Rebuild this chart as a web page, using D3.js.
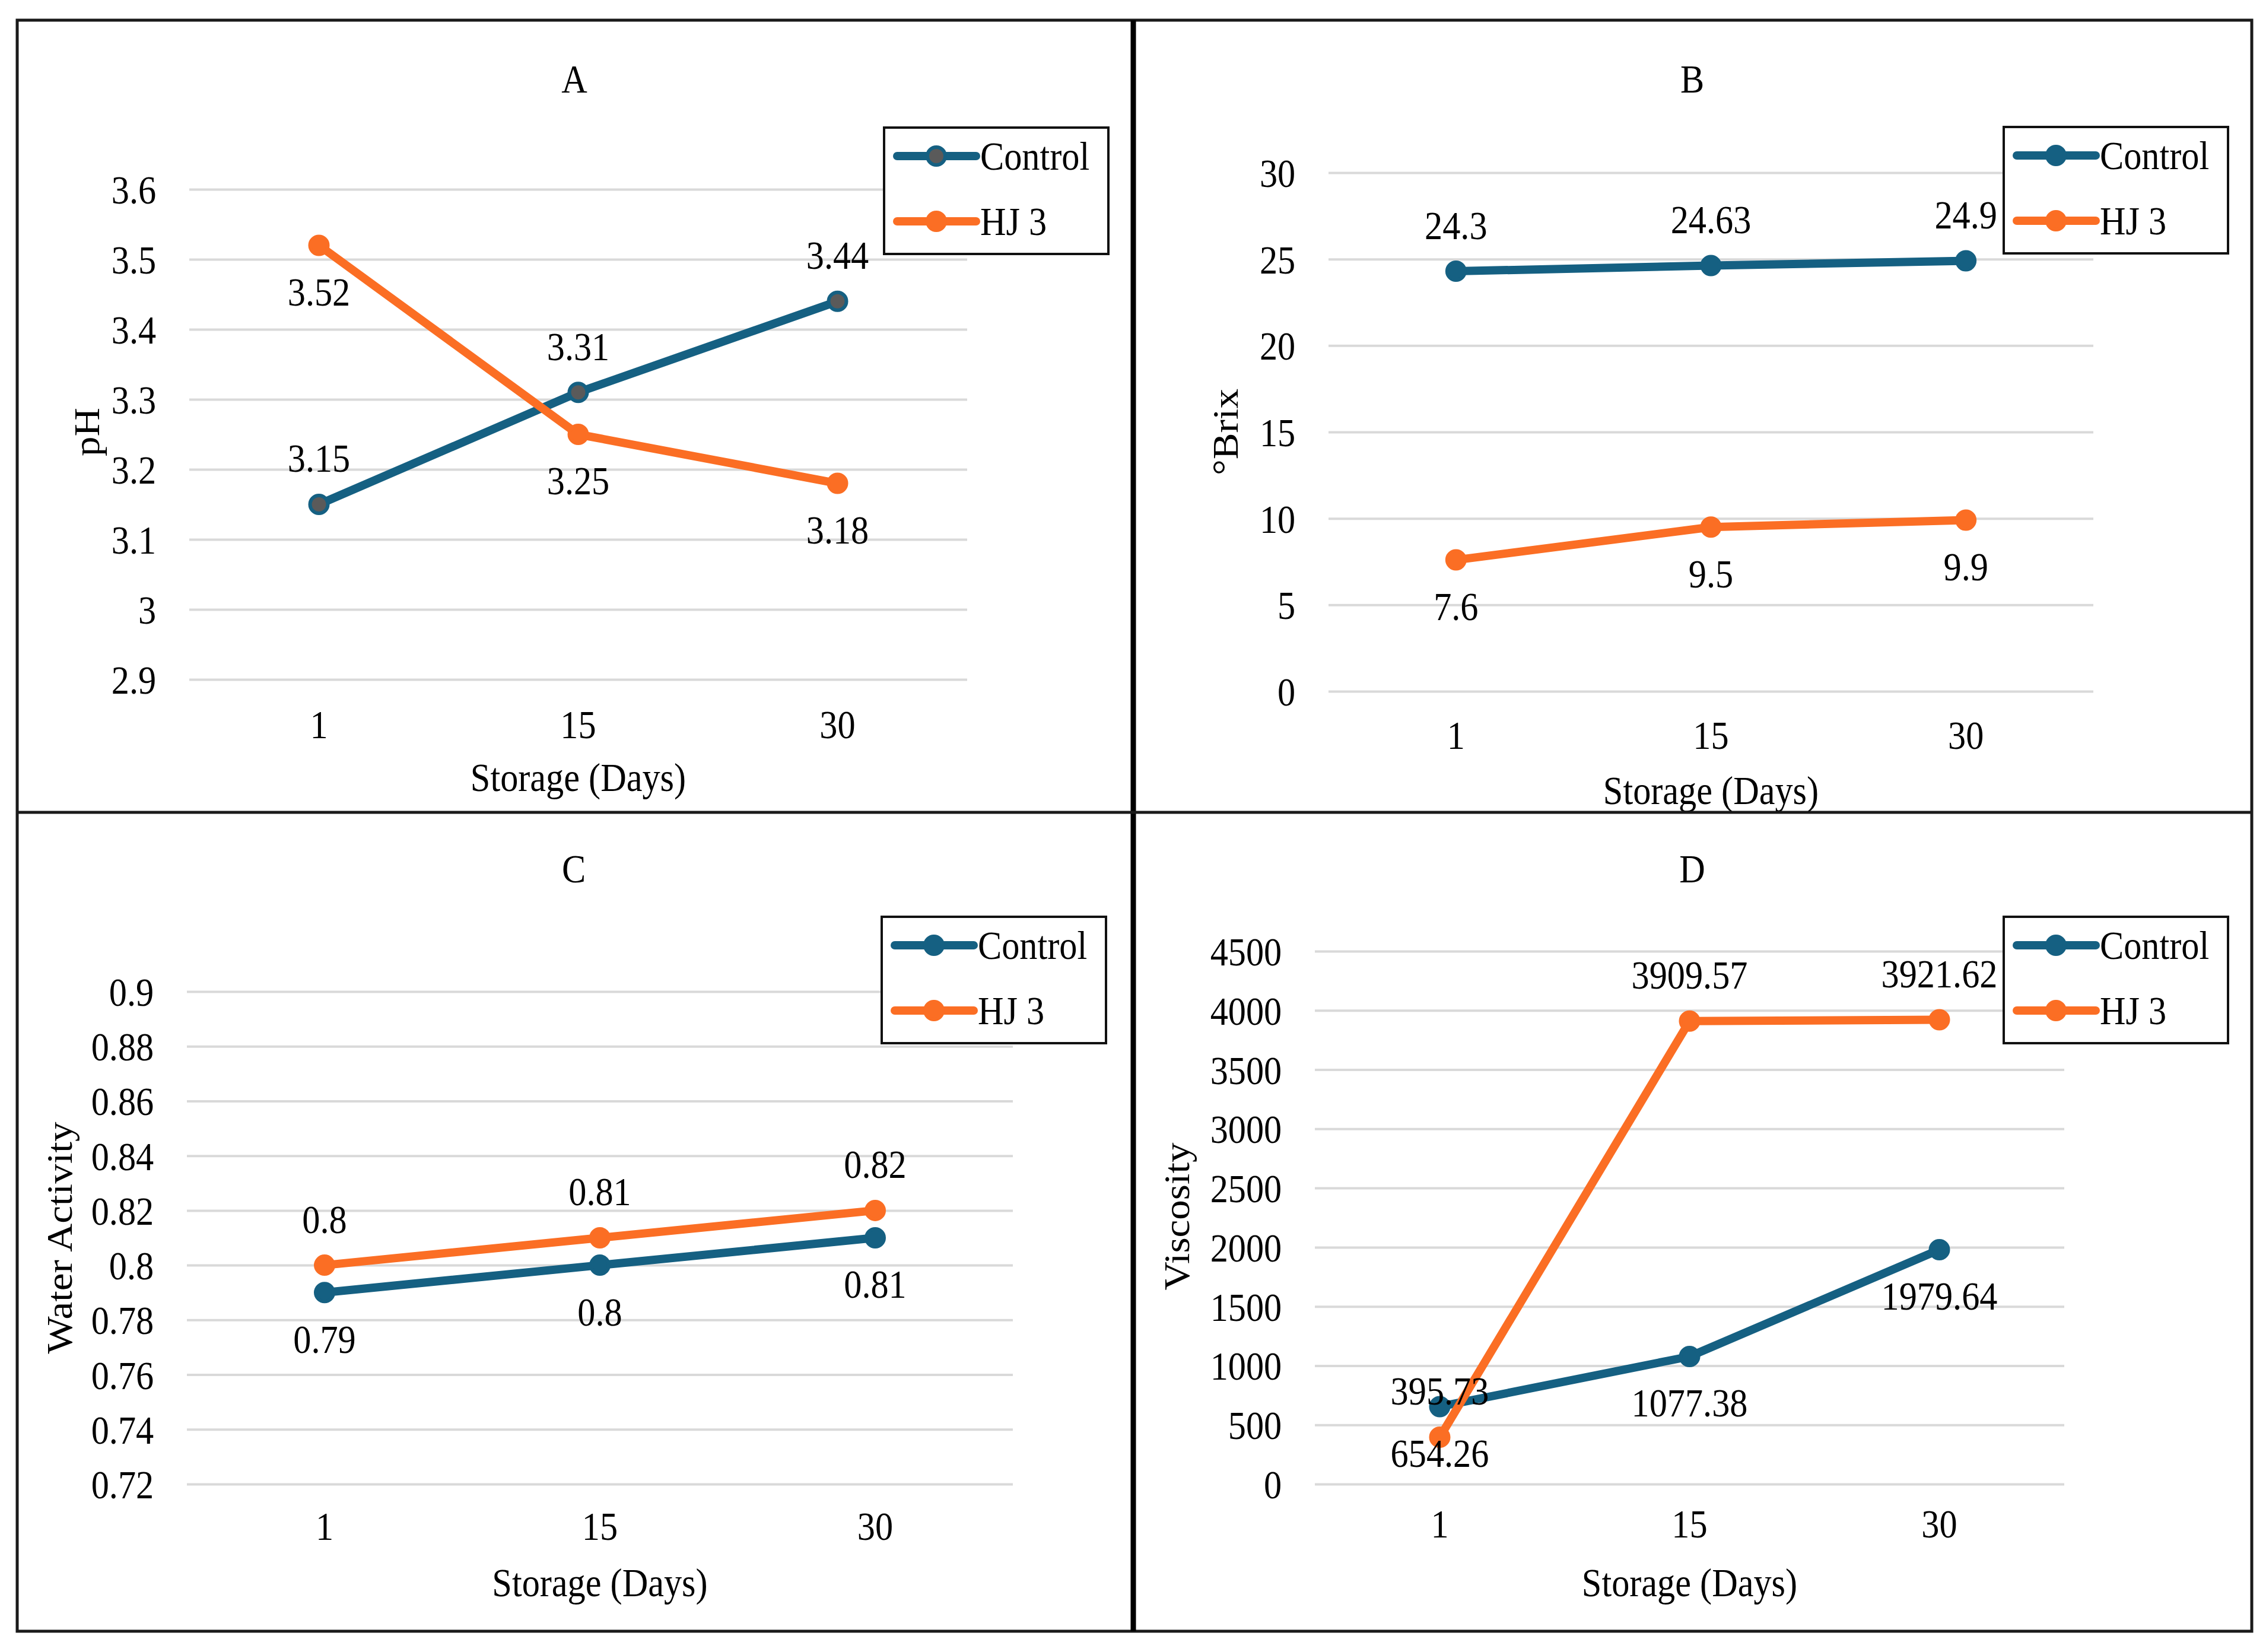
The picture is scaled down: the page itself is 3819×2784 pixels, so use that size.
<!DOCTYPE html>
<html>
<head>
<meta charset="utf-8">
<script src="https://cdn.jsdelivr.net/npm/d3@7"></script>
<style>
  body { margin: 0; background: #fff; }
  text { font-family: "Liberation Serif", "Times New Roman", serif; fill: #000; }
</style>
</head>
<body>
<div id="chart"></div>
<script>
// data
var days = ["1", "15", "30"];
var seriesNames = ["Control", "HJ 3"];

var phControl = [3.15, 3.31, 3.44];
var phHJ3 = [3.52, 3.25, 3.18];
var phTicks = [2.9, 3, 3.1, 3.2, 3.3, 3.4, 3.5, 3.6];

var brixControl = [24.3, 24.63, 24.9];
var brixHJ3 = [7.6, 9.5, 9.9];
var brixTicks = [0, 5, 10, 15, 20, 25, 30];

var awControl = [0.79, 0.8, 0.81];
var awHJ3 = [0.8, 0.81, 0.82];
var awTicks = [0.72, 0.74, 0.76, 0.78, 0.8, 0.82, 0.84, 0.86, 0.88, 0.9];

var viscControl = [654.26, 1077.38, 1979.64];
var viscHJ3 = [395.73, 3909.57, 3921.62];
var viscTicks = [0, 500, 1000, 1500, 2000, 2500, 3000, 3500, 4000, 4500];

//colours
var teal = "#156082";
var orange = "#FB6E24";
var FS = 67;      // font size
var SX = 0.9;     // the figure's text is a little narrow

var svgWidth = 3819;
var svgHeight = 2784;

var svg = d3.select("#chart")
  .append("svg")
  .attr("width", svgWidth)
  .attr("height", svgHeight);

svg.append("rect").attr("width", svgWidth).attr("height", svgHeight).attr("fill", "#fff");

// layout of the four panels
var panels = [
  { title: "A", yLabel: "pH", control: phControl, hj3: phHJ3, ticks: phTicks, domain: [2.9, 3.6],
    left: 319, right: 1630, top: 319, bottom: 1145, titleX: 968, titleY: 133,
    yLabelX: 146, yLabelY: 728, xTickY: 1221, xTitleY: 1310,
    legendX: 1490, legendY: 215, controlAbove: true, grayMarker: true },
  { title: "B", yLabel: "°Brix", control: brixControl, hj3: brixHJ3, ticks: brixTicks, domain: [0, 30],
    left: 2239, right: 3528, top: 291, bottom: 1165, titleX: 2852, titleY: 133,
    yLabelX: 2065, yLabelY: 728, xTickY: 1239, xTitleY: 1332,
    legendX: 3377, legendY: 214, controlAbove: true, grayMarker: false },
  { title: "C", yLabel: "Water Activity", control: awControl, hj3: awHJ3, ticks: awTicks, domain: [0.72, 0.9],
    left: 315, right: 1707, top: 1671, bottom: 2501, titleX: 967, titleY: 1464,
    yLabelX: 100, yLabelY: 2086, xTickY: 2572, xTitleY: 2667,
    legendX: 1486, legendY: 1545, controlAbove: false, grayMarker: false },
  { title: "D", yLabel: "Viscosity", control: viscControl, hj3: viscHJ3, ticks: viscTicks, domain: [0, 4500],
    left: 2216, right: 3479, top: 1603, bottom: 2501, titleX: 2852, titleY: 1464,
    yLabelX: 1983, yLabelY: 2050, xTickY: 2568, xTitleY: 2667,
    legendX: 3377, legendY: 1545, controlAbove: false, grayMarker: false }
];

// text helper, squeezes the glyphs a bit to match the picture
function addText(parent, x, y, str, anchor, rotated) {
  var tf = `translate(${x},${y})` + (rotated ? " rotate(-90) scale(1," + SX + ")" : " scale(" + SX + ",1)");
  return parent.append("text")
    .attr("transform", tf)
    .attr("text-anchor", anchor || "middle")
    .attr("dy", "0.35em")
    .attr("font-size", FS)
    .text(str);
}

function fmt(v) {
  return String(+v.toFixed(3));
}

function drawPanel(p) {
  var g = svg.append("g");

  var x = d3.scaleBand().domain(days).range([p.left, p.right]);
  var y = d3.scaleLinear().domain(p.domain).range([p.bottom, p.top]);
  var cx = d => x(d) + x.bandwidth() / 2;

  // gridlines + y tick labels
  var yAxis = g.append("g")
    .attr("transform", `translate(${p.left},0)`)
    .call(d3.axisLeft(y).tickValues(p.ticks).tickSize(-(p.right - p.left)).tickPadding(62).tickFormat(fmt));
  yAxis.select(".domain").remove();
  yAxis.selectAll("line").attr("stroke", "#d9d9d9").attr("stroke-width", 4);
  yAxis.selectAll("text")
    .attr("font-size", FS)
    .attr("font-family", null)
    .attr("transform", "scale(" + SX + ",1)")
    .attr("dy", "0.35em");

  // x tick labels
  var xAxis = g.append("g")
    .attr("transform", `translate(0,${p.xTickY})`)
    .call(d3.axisBottom(x).tickSize(0).tickPadding(0));
  xAxis.select(".domain").remove();
  xAxis.selectAll("text")
    .attr("font-size", FS)
    .attr("y", 0)
    .attr("dy", "0.35em")
    .attr("transform", "scale(" + SX + ",1)");
  yAxis.attr("font-family", null).attr("font-size", null);
  xAxis.attr("font-family", null).attr("font-size", null);

  // titles
  addText(g, p.titleX, p.titleY, p.title);
  addText(g, (p.left + p.right) / 2, p.xTitleY, "Storage (Days)");
  addText(g, p.yLabelX, p.yLabelY, p.yLabel, "middle", true);

  var series = [
    { name: seriesNames[0], values: p.control, color: teal, above: p.controlAbove,
      fill: p.grayMarker ? "#5a5a5a" : teal },
    { name: seriesNames[1], values: p.hj3, color: orange, above: !p.controlAbove, fill: orange }
  ];

  var line = d3.line()
    .x((d, i) => cx(days[i]))
    .y(d => y(d));

  series.forEach(function(s) {
    g.append("path")
      .datum(s.values)
      .attr("d", line)
      .attr("fill", "none")
      .attr("stroke", s.color)
      .attr("stroke-width", 14)
      .attr("stroke-linejoin", "round")
      .attr("stroke-linecap", "round");

    g.selectAll(null)
      .data(s.values)
      .enter()
      .append("circle")
      .attr("cx", (d, i) => cx(days[i]))
      .attr("cy", d => y(d))
      .attr("r", 15)
      .attr("fill", s.fill)
      .attr("stroke", s.color)
      .attr("stroke-width", 6);
  });

  // data labels
  series.forEach(function(s) {
    s.values.forEach(function(v, i) {
      addText(g, cx(days[i]), y(v) + (s.above ? -78 : 78), String(v));
    });
  });

  // legend
  var lg = g.append("g").attr("transform", `translate(${p.legendX},${p.legendY})`);
  lg.append("rect")
    .attr("width", 378)
    .attr("height", 213)
    .attr("fill", "#fff")
    .attr("stroke", "#111")
    .attr("stroke-width", 4);
  series.forEach(function(s, i) {
    var ry = 48 + i * 110;
    lg.append("line")
      .attr("x1", 22).attr("x2", 155)
      .attr("y1", ry).attr("y2", ry)
      .attr("stroke", s.color)
      .attr("stroke-width", 14)
      .attr("stroke-linecap", "round");
    lg.append("circle")
      .attr("cx", 88).attr("cy", ry).attr("r", 15)
      .attr("fill", s.fill)
      .attr("stroke", s.color)
      .attr("stroke-width", 6);
    addText(lg, 162, ry, s.name, "start");
  });
}

panels.forEach(drawPanel);

// panel frames
svg.append("rect")
  .attr("x", 29).attr("y", 34)
  .attr("width", 3795 - 29).attr("height", 2749 - 34)
  .attr("fill", "none")
  .attr("stroke", "#1a1a1a")
  .attr("stroke-width", 5);
svg.append("line")
  .attr("x1", 1910).attr("x2", 1910).attr("y1", 34).attr("y2", 2749)
  .attr("stroke", "#000").attr("stroke-width", 9);
svg.append("line")
  .attr("x1", 29).attr("x2", 3795).attr("y1", 1369).attr("y2", 1369)
  .attr("stroke", "#1a1a1a").attr("stroke-width", 5);
</script>
</body>
</html>
